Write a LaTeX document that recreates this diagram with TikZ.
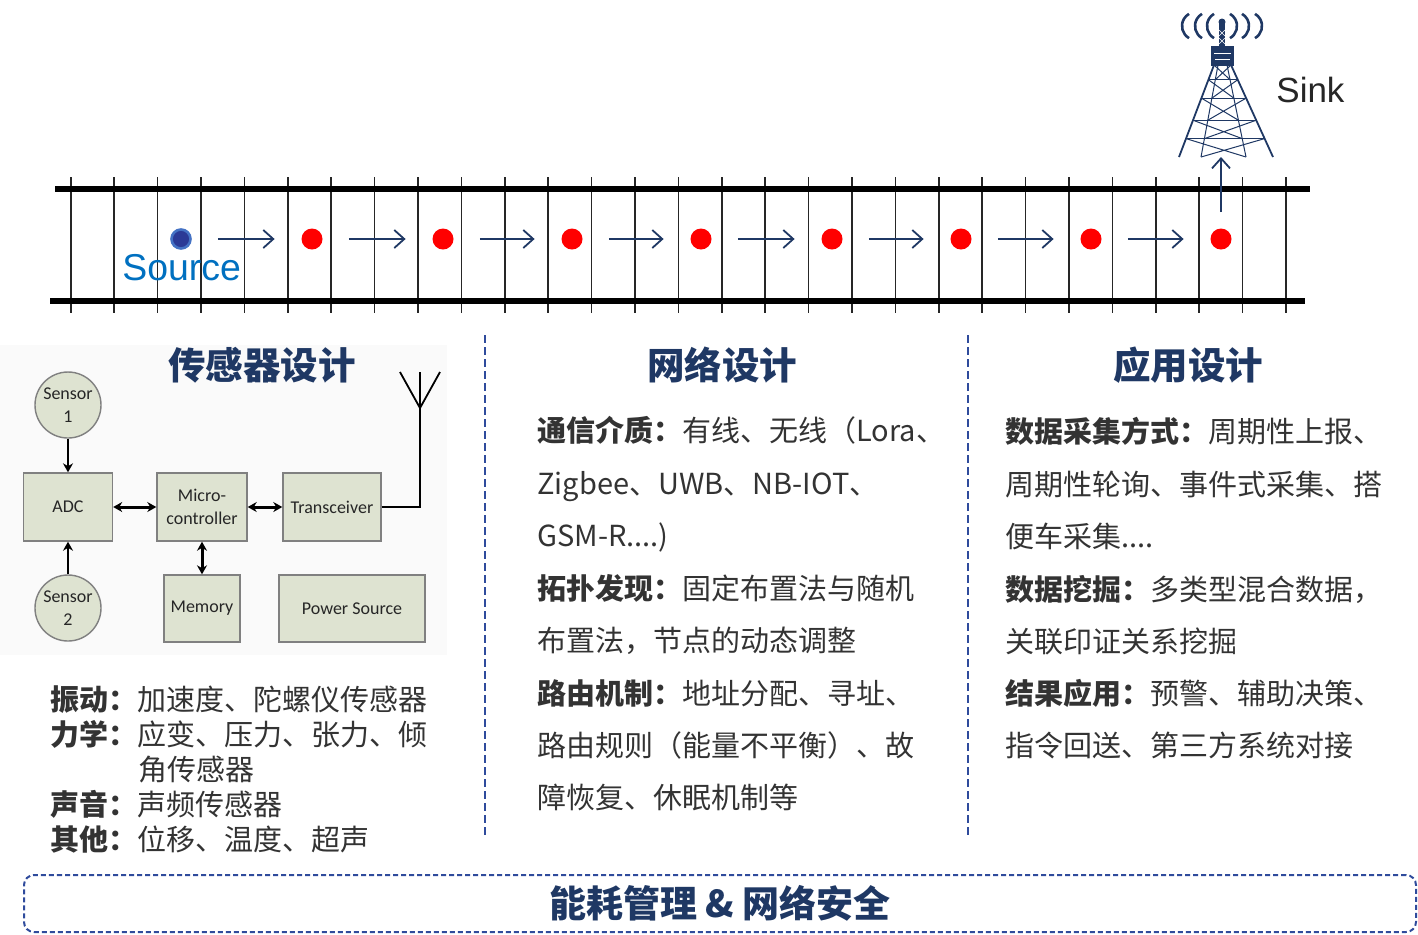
\documentclass[tikz,border=0pt]{standalone}
\usepackage{fontspec}
\setmainfont{Liberation Sans}
\newfontfamily\cjk{Noto Sans CJK SC}
\newfontfamily\cbri{Carlito}
\usetikzlibrary{arrows.meta}
\usetikzlibrary{calc}
\definecolor{navy}{HTML}{1F3864}
\definecolor{dashblue}{HTML}{2F4B9C}
\definecolor{srcblue}{HTML}{0070C0}
\definecolor{srcmid}{HTML}{4472C4}
\definecolor{srcdark}{HTML}{2B3A96}
\definecolor{boxfill}{HTML}{DEE3D1}
\definecolor{panel}{HTML}{FAFAFA}
\definecolor{txt}{HTML}{333333}
\definecolor{nodered}{HTML}{FF0000}
\tikzset{
  rail/.style={line width=3pt},
  tie/.style={line width=0.8pt,black!85},
  hop/.style={navy,line width=0.9pt,-{Straight Barb[length=5pt,width=9pt]}},
  reddot/.style={circle,fill=nodered,minimum size=10.5pt,inner sep=0pt},
  block/.style={draw=black!50,fill=boxfill,line width=0.7pt,align=center,inner sep=1pt,
    text=black!85,font=\cbri\fontsize{9}{11.5}\selectfont},
  sensor/.style={circle,draw=black!50,fill=boxfill,line width=0.7pt,minimum size=33pt,
    inner sep=0pt,align=center,text=black!85,font=\cbri\fontsize{9}{11.5}\selectfont},
  link/.style={line width=1.5pt,{Stealth[length=4.5pt,width=5pt]}-{Stealth[length=4.5pt,width=5pt]}},
  feed/.style={line width=1.3pt,-{Stealth[length=4.5pt,width=5pt]}},
  heading/.style={text=navy,font=\cjk\bfseries\fontsize{18.75}{22}\selectfont},
  para/.style={anchor=base west,inner sep=0pt,text=txt,font=\cjk\fontsize{14.5}{17}\selectfont},
  sep/.style={dashblue,line width=1.2pt,dash pattern=on 4pt off 2pt},
  tower/.style={navy,line width=0.5pt},
  wave/.style={navy,line width=1.3pt},
}
\begin{document}
\begin{tikzpicture}[x=0.5pt,y=-0.5pt]
\useasboundingbox (0,0) rectangle (1418,934);
% track
\foreach \i in {0,...,28}
  \draw[tie] (70.7+43.4*\i,177) -- ++(0,136);
\draw[rail] (55,189) -- (1310,189);
\draw[rail] (50,301) -- (1305,301);
% hops
\node[circle,fill=srcdark,draw=srcmid,line width=1.3pt,minimum size=9.5pt,inner sep=0pt] (d0) at (181,239) {};
\node[anchor=base west,inner sep=0pt,text=srcblue,font=\fontsize{18.7}{21}\selectfont] (src) at (122,280) {Source};
\foreach \x [count=\i] in {312,443,572,701,832,961,1091,1221}
  \node[reddot] (d\i) at (\x,239) {};
\foreach \i [count=\j] in {0,...,7}
  \draw[hop,shorten <=13pt,shorten >=13.25pt] (d\i) -- (d\j);
% sink tower
\coordinate (lt) at (1214,65);
\coordinate (lb) at (1179,157);
\coordinate (rt) at (1231,65);
\coordinate (rb) at (1273,157);
\coordinate (ilt) at (1218,65);
\coordinate (ilb) at (1201,157);
\coordinate (irt) at (1227,65);
\coordinate (irb) at (1246,157);
\draw[tower,line width=0.9pt] (lt) -- (lb) (rt) -- (rb);
\draw[tower] (ilt) -- (ilb) (irt) -- (irb);
\foreach \t in {0.16,0.36,0.6,0.8}
  \draw[tower] ($(lt)!\t!(lb)$) -- ($(rt)!\t!(rb)$);
\foreach \t/\u in {0/0.16,0.16/0.36,0.36/0.6,0.6/0.8,0.8/1}
  \draw[tower] ($(lt)!\t!(lb)$) -- ($(irt)!\u!(irb)$) ($(rt)!\t!(rb)$) -- ($(ilt)!\u!(ilb)$);
\fill[navy] (1211,46) rectangle (1234,66);
\draw[white,line width=0.4pt] (1214,53) -- (1231,53) (1215,59) -- (1230,59);
\fill[navy] (1219,24) rectangle (1225,46);
\draw[white,line width=0.3pt] (1219,30) -- (1225,36) (1225,30) -- (1219,36) (1219,38) -- (1225,44) (1225,38) -- (1219,44);
\fill[navy] (1222,22) circle (3.5);
\foreach \d in {15,27,40} {
  \draw[wave] ($(1236-\d,26)+(120:14)$) arc[start angle=120,end angle=240,radius=14];
  \draw[wave] ($(1208+\d,26)+(60:14)$) arc[start angle=60,end angle=-60,radius=14];
}
\coordinate (sinkbase) at (1221,157);
\draw[hop,shorten <=8pt] (d8) -- (sinkbase);
\node[anchor=base west,inner sep=0pt,text=black!85,font=\fontsize{17.5}{20}\selectfont] (sink) at (1276,102) {Sink};
% sensor node panel
\fill[panel] (0,345) rectangle (447,655);
% headings
\node[heading] (h1) at (262,365) {传感器设计};
\node[heading] (h2) at (722,365) {网络设计};
\node[heading] (h3) at (1188,365) {应用设计};
% separators
\draw[sep] (485,335) -- (485,838);
\draw[sep] (968,335) -- (968,838);
% sensor node blocks
\node[sensor] (s1) at (68,405) {Sensor\\1};
\node[sensor] (s2) at (68,608) {Sensor\\2};
\node[block,minimum width=44.5pt,minimum height=34pt] (adc) at (68,507) {ADC};
\node[block,minimum width=45pt,minimum height=34pt] (mcu) at (202,507) {Micro-\\controller};
\node[block,minimum width=49pt,minimum height=34pt] (trx) at (332,507) {Transceiver};
\node[block,minimum width=38pt,minimum height=33.5pt] (mem) at (202,608.5) {Memory};
\node[block,minimum width=73pt,minimum height=33.5pt] (pwr) at (352,608.5) {Power Source};
\draw[feed] (s1) -- (adc);
\draw[feed] (s2) -- (adc);
\draw[link] (adc) -- (mcu);
\draw[link] (mcu) -- (trx);
\draw[link] (mcu) -- (mem);
\coordinate (antfoot) at (420,507);
\coordinate (anttop) at (420,372);
\coordinate (antfork) at (420,408);
\draw[line width=1.3pt] (trx) -- (antfoot) -- (antfork);
\draw[line width=0.9pt] (antfork) -- (anttop) (400,372) -- (antfork) -- (440,372);
% sensor list
\node[para] (l1) at (50,710) {{\bfseries 振动：}加速度、陀螺仪传感器};
\node[para] (l2) at (50,745) {{\bfseries 力学：}应变、压力、张力、倾};
\node[para] (l3) at (138,780) {角传感器};
\node[para] (l4) at (50,815) {{\bfseries 声音：}声频传感器};
\node[para] (l5) at (50,850) {{\bfseries 其他：}位移、温度、超声};
% network design
\node[para] (m1) at (537,441) {{\bfseries 通信介质：}有线、无线（Lora、};
\node[para] (m2) at (537,494) {Zigbee、UWB、NB-IOT、};
\node[para] (m3) at (537,546) {GSM-R....)};
\node[para] (m4) at (537,599) {{\bfseries 拓扑发现：}固定布置法与随机};
\node[para] (m5) at (537,651) {布置法，节点的动态调整};
\node[para] (m6) at (537,704) {{\bfseries 路由机制：}地址分配、寻址、};
\node[para] (m7) at (537,756) {路由规则（能量不平衡）、故};
\node[para] (m8) at (537,808) {障恢复、休眠机制等};
% application design
\node[para] (r1) at (1005,442) {{\bfseries 数据采集方式：}周期性上报、};
\node[para] (r2) at (1005,495) {周期性轮询、事件式采集、搭};
\node[para] (r3) at (1005,547) {便车采集....};
\node[para] (r4) at (1005,600) {{\bfseries 数据挖掘：}多类型混合数据，};
\node[para] (r5) at (1005,652) {关联印证关系挖掘};
\node[para] (r6) at (1005,704) {{\bfseries 结果应用：}预警、辅助决策、};
\node[para] (r7) at (1005,756) {指令回送、第三方系统对接};
% banner
\node[draw=dashblue,line width=1pt,dash pattern=on 2.5pt off 1.5pt,rounded corners=5pt,
  minimum width=696pt,minimum height=28.5pt,text=navy,
  font=\cjk\bfseries\fontsize{18.5}{22}\selectfont] (banner) at (720,903.5) {能耗管理 \& 网络安全};
\end{tikzpicture}
\end{document}
